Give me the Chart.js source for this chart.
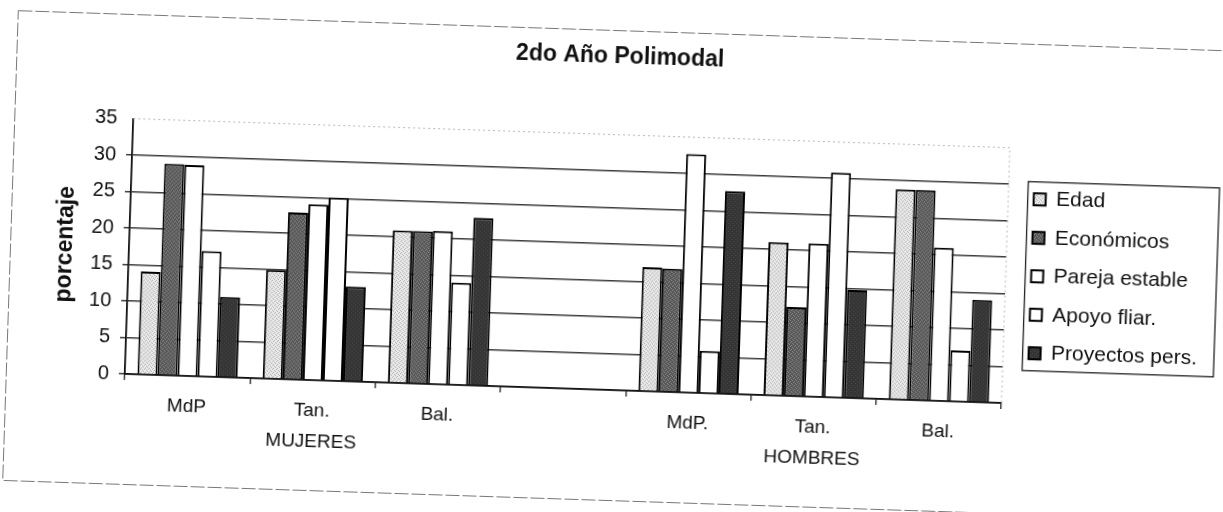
<!DOCTYPE html>
<html>
<head>
<meta charset="utf-8">
<title>2do Año Polimodal</title>
<script src="https://cdn.jsdelivr.net/npm/chart.js@4.4.1/dist/chart.umd.min.js"></script>
<style>
  html, body { margin: 0; padding: 0; background: #fff; overflow: hidden; }
  /* the scanned page is slightly tilted */
  #wrap { width: 1223px; height: 512px; transform: rotate(1.9deg); transform-origin: 50% 50%; }
</style>
</head>
<body>
<div id="wrap"><canvas id="polimodalChart" width="1223" height="512"></canvas></div>
<script>
const sites = ['MdP', 'Tan.', 'Bal.', '', 'MdP.', 'Tan.', 'Bal.'];
const groups = ['', 'MUJERES', '', '', '', 'HOMBRES', ''];
const seriesNames = ['Edad', 'Económicos', 'Pareja estable', 'Apoyo fliar.', 'Proyectos pers.'];

const edad       = [14.1, 14.9, 20.9, null, 17.0, 21.0, 28.8];
const economicos = [29.0, 22.9, 20.9, null, 16.9, 12.2, 28.8];
const pareja     = [28.9, 24.1, 21.0, null, 32.7, 21.0, 21.0];
const apoyo      = [17.2, 25.1, 14.0, null, 5.8, 30.8, 7.0];
const proyectos  = [11.0, 13.0, 23.0, null, 27.8, 14.8, 14.0];

const yMin = 0, yMax = 35, yStep = 5;

Chart.defaults.font.family = '"Liberation Sans", Arial, sans-serif';
Chart.defaults.color = '#111';

const canvas = document.getElementById('polimodalChart');
const ctx = canvas.getContext('2d');

// small fixed speckle textures like the Excel fills
function speckle(base, dot, cells) {
    const c = document.createElement('canvas');
    c.width = 4; c.height = 4;
    const g = c.getContext('2d');
    g.fillStyle = base;
    g.fillRect(0, 0, 4, 4);
    g.fillStyle = dot;
    cells.forEach(([x, y]) => g.fillRect(x, y, 1, 1));
    return ctx.createPattern(c, 'repeat');
}

const fills = [
    speckle('#ebebeb', '#b0b0b0', [[0, 0], [2, 1], [1, 3], [3, 2]]),
    speckle('#565656', '#8a8a8a', [[1, 0], [3, 1], [0, 2], [2, 3]]),
    '#ffffff',
    '#ffffff',
    speckle('#353535', '#4a4a4a', [[1, 1], [3, 3]])
];
const values = [edad, economicos, pareja, apoyo, proyectos];

const tickLabels = sites.map((s, i) => groups[i] ? [s, groups[i]] : [s]);

const framePlugin = {
    id: 'frame',
    beforeDatasetsDraw(chart) {
        const { ctx, chartArea: a } = chart;
        ctx.save();
        ctx.strokeStyle = '#b8b8b8';
        ctx.lineWidth = 1;
        ctx.setLineDash([2, 3]);
        ctx.beginPath();
        ctx.moveTo(a.left, a.top);
        ctx.lineTo(a.right, a.top);
        ctx.lineTo(a.right, a.bottom);
        ctx.stroke();
        ctx.restore();
    },
    afterDraw(chart) {
        const { ctx } = chart;
        ctx.save();
        // outer chart border
        ctx.strokeStyle = '#777';
        ctx.lineWidth = 1;
        ctx.setLineDash([14, 3]);
        ctx.strokeRect(10.5, 30.5, chart.width + 20, 470);
        // legend border
        const hb = chart.legend.legendHitBoxes;
        if (hb && hb.length) {
            const first = hb[0], last = hb[hb.length - 1];
            const l = first.left - 6, t = first.top - 7, b = last.top + last.height + 7;
            ctx.setLineDash([]);
            ctx.strokeStyle = '#222';
            ctx.lineWidth = 1.3;
            ctx.strokeRect(l, t, chart.width - 6 - l, b - t);
        }
        ctx.restore();
    }
};

new Chart(ctx, {
    type: 'bar',
    data: {
        labels: tickLabels,
        datasets: seriesNames.map((name, i) => ({
            label: name,
            data: values[i],
            yAxisID: 'y',
            backgroundColor: fills[i],
            borderColor: '#000',
            borderWidth: 2,
            barPercentage: 1.0,
            categoryPercentage: 0.8
        }))
    },
    options: {
        responsive: false,
        animation: false,
        layout: { padding: { left: 17, right: 13, top: 0, bottom: 0 } },
        plugins: {
            title: {
                display: true,
                text: '2do Año Polimodal',
                font: { size: 23, weight: 'bold' },
                color: '#111',
                padding: { top: 43, bottom: 64 }
            },
            legend: {
                position: 'right',
                fullSize: false,
                labels: {
                    font: { size: 21 },
                    color: '#111',
                    boxWidth: 12,
                    boxHeight: 12,
                    padding: 17.5
                }
            },
            tooltip: { enabled: false }
        },
        scales: {
            x: {
                grid: {
                    display: true,
                    drawOnChartArea: false,
                    offset: true,
                    tickLength: 6,
                    lineWidth: 1.3,
                    color: '#222'
                },
                border: { color: '#111', width: 1.8 },
                ticks: {
                    autoSkip: false,
                    maxRotation: 0,
                    padding: 10,
                    font: { size: 19, lineHeight: 1.6 },
                    color: '#111'
                },
                afterFit: s => { s.height = 122; }
            },
            y: {
                min: yMin,
                max: yMax,
                ticks: {
                    stepSize: yStep,
                    padding: 10,
                    font: { size: 20 },
                    color: '#111'
                },
                grid: {
                    tickLength: 6,
                    lineWidth: 1.5,
                    color: c => (c.tick && c.tick.value === yMax) ? 'rgba(0,0,0,0)' : '#3c3c3c'
                },
                border: { color: '#111', width: 1.8 },
                title: {
                    display: true,
                    text: 'porcentaje',
                    font: { size: 23, weight: 'bold' },
                    color: '#111',
                    padding: { top: 35, bottom: 0 }
                },
                afterFit: s => { s.width = 112; }
            },
            gap: {
                type: 'linear',
                position: 'right',
                display: true,
                grid: { display: false },
                border: { display: false },
                ticks: { display: false },
                afterFit: s => { s.width = 8; }
            }
        }
    },
    plugins: [framePlugin]
});
</script>
</body>
</html>
